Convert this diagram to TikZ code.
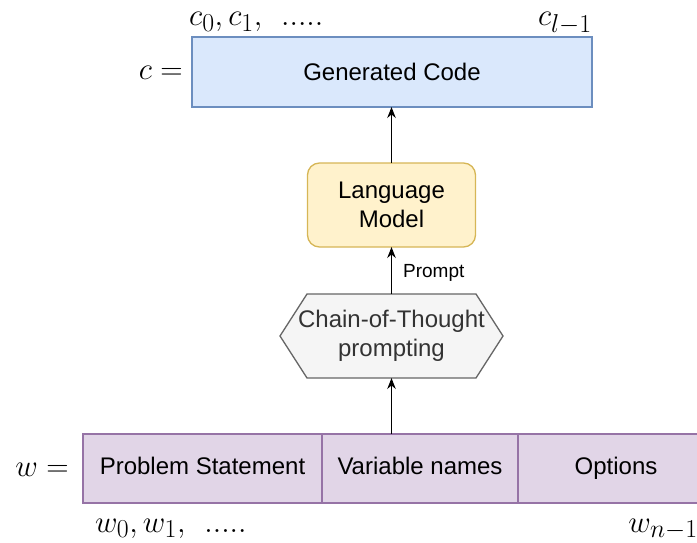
\documentclass[tikz,border=0pt]{standalone}
\usepackage{fontspec}
\setmainfont{Liberation Sans}
\usetikzlibrary{arrows.meta,calc,backgrounds}
\definecolor{bluefill}{HTML}{DAE8FC}
\definecolor{bluedraw}{HTML}{6C8EBF}
\definecolor{yelfill}{HTML}{FFF2CC}
\definecolor{yeldraw}{HTML}{D6B656}
\definecolor{greyfill}{HTML}{F5F5F5}
\definecolor{greydraw}{HTML}{666666}
\definecolor{greytext}{HTML}{333333}
\definecolor{purpfill}{HTML}{E1D5E7}
\definecolor{purpdraw}{HTML}{9673A6}
\newcommand{\bigmathlbl}[1]{\scalebox{1.246}{$#1$}}
\begin{document}
\begin{tikzpicture}[x=1pt,y=-1pt,
  every node/.style={font=\fontsize{24}{29}\selectfont, text=black},
  box/.style={draw, line width=1.3pt, inner sep=0pt, outer sep=0pt, align=center},
  genbox/.style={box, fill=bluefill, draw=bluedraw, minimum width=400pt, minimum height=70pt},
  lmbox/.style={box, fill=yelfill, draw=yeldraw, rounded corners=12pt, minimum width=168pt, minimum height=84pt},
  hexnode/.style={inner sep=0pt, outer sep=0pt, align=center, minimum width=223pt, minimum height=84pt, text=greytext},
  hexshape/.style={draw=greydraw, fill=greyfill, line width=1.3pt, line join=miter},
  cell/.style={box, fill=purpfill, draw=purpdraw, minimum height=69pt, text height=17pt, text depth=5pt},
  mathlbl/.style={inner sep=0pt, font=\fontsize{24.88}{30}\selectfont},
  arr/.style={line width=1.3pt, -{Stealth[length=11pt,width=8.5pt]}},
  lbl/.style={font=\fontsize{19}{23}\selectfont, inner sep=2pt}
]
\useasboundingbox (0,0) rectangle (697,543);
\clip (0,0) rectangle (697,543);

% top
\node[genbox] (gen) at (392,72) {Generated Code};
\node[mathlbl, anchor=base east] (ceq) at (183,80) {\bigmathlbl{c=}};
\node[mathlbl, anchor=base west] (cfirst) at (189,25.5) {\bigmathlbl{c_0, c_1,\ \,.....}};
\node[mathlbl, anchor=base east] (clast) at (592,25.5) {\bigmathlbl{c_{l-1}}};

% language model
\node[lmbox] (lm) at (391.5,205) {Language\\Model};

% hexagon
\node[hexnode] (hex) at (391.5,336) {Chain-of-Thought\\prompting};
\begin{scope}[on background layer]
  \draw[hexshape] (hex.west) -- ($(hex.north west)+(27,0)$) -- ($(hex.north east)+(-27,0)$)
    -- (hex.east) -- ($(hex.south east)+(-27,0)$) -- ($(hex.south west)+(27,0)$) -- cycle;
\end{scope}

% bottom cells
\node[cell, minimum width=239pt, anchor=north west] (ps) at (83,434) {Problem Statement};
\node[cell, minimum width=196pt, anchor=north west] (vn) at (ps.north east) {Variable names};
\node[cell, minimum width=196pt, anchor=north west] (op) at (vn.north east) {Options};
\node[mathlbl, anchor=base east] (weq) at (69,476) {\bigmathlbl{w=}};
\node[mathlbl, anchor=base west] (wfirst) at (95,532) {\bigmathlbl{w_0, w_1,\ \,.....}};
\node[mathlbl, anchor=base east] (wlast) at (698,532) {\bigmathlbl{w_{n-1}}};

% arrows
\draw[arr] (hex.south |- vn.north) -- (hex.south);
\draw[arr] (hex.north) -- (lm.south) node[lbl, midway, anchor=west, xshift=9pt, yshift=-2pt] (prompt) {Prompt};
\draw[arr] (lm.north) -- (lm.north |- gen.south);
\end{tikzpicture}
\end{document}
